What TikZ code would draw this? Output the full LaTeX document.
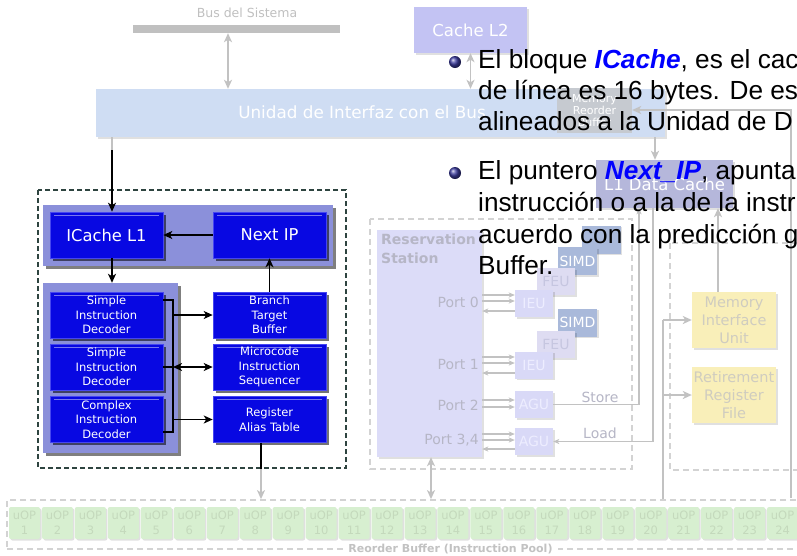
\documentclass[tikz,border=0pt]{standalone}
\usepackage{fontspec}
\setmainfont{Liberation Sans}
\newfontfamily\dv{DejaVu Sans}
\usetikzlibrary{arrows.meta,shadows}
\definecolor{busblue}{HTML}{CFDDF3}
\definecolor{busbar}{HTML}{C0C0C0}
\definecolor{ltwo}{HTML}{C3C3F3}
\definecolor{lone}{HTML}{B5B7DB}
\definecolor{mrbfill}{HTML}{C6CAD0}
\definecolor{fblue}{HTML}{0808E2}
\definecolor{fhi}{HTML}{4646F0}
\definecolor{fpanel}{HTML}{8B90DA}
\definecolor{ggray}{HTML}{C2C2C2}
\definecolor{dashgray}{HTML}{D3D3D3}
\definecolor{framec}{HTML}{2E4440}
\definecolor{rsfill}{HTML}{DCDCF8}
\definecolor{rstext}{HTML}{B6B6C6}
\definecolor{unitfill}{HTML}{D9D9F7}
\definecolor{unittext}{HTML}{EDEDFF}
\definecolor{feufill}{HTML}{DEDCF2}
\definecolor{feutext}{HTML}{C6C6E0}
\definecolor{simdfill}{HTML}{A9B9DA}
\definecolor{yel}{HTML}{F9EFB9}
\definecolor{yeltext}{HTML}{CFCCC0}
\definecolor{uopfill}{HTML}{D7EFD0}
\definecolor{uoptext}{HTML}{C4D9BC}
\definecolor{ballblue}{HTML}{3B3BA0}
\definecolor{linkblue}{HTML}{0000FF}
\newcommand\bigtxt{\fontsize{26.2}{31.5}\selectfont}
\begin{document}
\begin{tikzpicture}[x=1pt,y=-1pt,
  tip/.tip={Stealth[length=9pt,width=8pt,inset=2.5pt]},
  stip/.tip={Stealth[length=6pt,width=5pt,inset=1.5pt]},
  gline/.style={draw=ggray,line width=1.8pt},
  garr/.style={gline,-tip},
  gdarr/.style={gline,tip-tip},
  sgarr/.style={draw=ggray,line width=1.5pt,-stip},
  sarr/.style={draw=ggray,line width=1.1pt,-stip},
  barr/.style={draw=black,line width=1.8pt,-tip},
  bdarr/.style={draw=black,line width=1.8pt,tip-tip},
  gdash/.style={draw=dashgray,line width=1.8pt,dash pattern=on 6pt off 4pt},
  lshadow/.style={drop shadow={shadow xshift=1.5pt,shadow yshift=-1.5pt,fill=black,opacity=.12}},
  plain/.style={rectangle,inner sep=0pt,align=center},
  fb/.style={plain,fill=fblue,draw=fhi,line width=.6pt,text=white,
    minimum width=113pt,minimum height=46pt,
    font=\dv\fontsize{11.5}{14.5}\selectfont,
    drop shadow={shadow xshift=2.5pt,shadow yshift=-2.5pt,fill=black,opacity=.55},
    path picture={\draw[white,opacity=.45,line width=.8pt]
      ([xshift=4pt,yshift=-3pt]path picture bounding box.north west) --
      ([xshift=-4pt,yshift=-3pt]path picture bounding box.north east);}},
  unit/.style={plain,fill=unitfill,text=unittext,minimum width=38pt,minimum height=27pt,
    font=\dv\fontsize{14}{16}\selectfont,lshadow},
  feu/.style={unit,fill=feufill,text=feutext},
  simd/.style={unit,fill=simdfill,text=white,minimum width=39pt,minimum height=28pt},
  yelbox/.style={plain,fill=yel,text=yeltext,minimum width=84pt,minimum height=56pt,
    font=\dv\fontsize{14.5}{18}\selectfont,lshadow},
  uop/.style={plain,rounded corners=2pt,fill=uopfill,text=uoptext,minimum width=31pt,
    minimum height=32pt,font=\dv\fontsize{11.5}{15}\selectfont,lshadow},
  ptext/.style={text=rstext,inner sep=0pt,font=\dv\fontsize{14}{16}\selectfont},
  bline/.style={anchor=base west,inner sep=0pt,font=\bigtxt}
]
\clip (0,0) rectangle (797,555);
\fill[white] (0,0) rectangle (797,555);

% ---------- bus and caches
\node[text=busbar,font=\dv\fontsize{12.5}{14}\selectfont] (bst) at (247,13) {Bus del Sistema};
\node[plain,fill=busbar,minimum width=207pt,minimum height=8pt] (bar) at (236.5,29) {};
\node[plain,fill=busblue,minimum width=569pt,minimum height=48pt,lshadow] (biu) at (380.5,113) {};
\node[text=white,font=\dv\fontsize{16.8}{20}\selectfont] (biut) at (362,112) {Unidad de Interfaz con el Bus};
\coordinate (bx) at (228,0);
\draw[gdarr] (bar.south -| bx) -- (biu.north -| bx);
\node[plain,fill=ltwo,minimum width=113pt,minimum height=46pt,text=white,
  font=\dv\fontsize{16.5}{20}\selectfont,lshadow] (l2) at (470.5,30) {Cache L2};
\draw[gdarr] (l2.south) -- (l2.south |- biu.north);
\node[plain,fill=mrbfill,minimum width=75pt,minimum height=45pt,text=white,
  font=\dv\fontsize{11}{12}\selectfont] (mrb) at (594.5,110.5) {Memory\\Reorder\\Buffer};
\node[plain,fill=lone,minimum width=137pt,minimum height=48pt,text=white,
  font=\dv\fontsize{16.5}{20}\selectfont,lshadow] (l1) at (664.5,184) {L1 Data Cache};
\coordinate (mx) at (655,0);
\draw[garr] (biu.south -| mx) -- (l1.north -| mx);

% ---------- reorder buffer
\node[plain,draw=dashgray,line width=1.8pt,dash pattern=on 6pt off 4pt,
  minimum width=805pt,minimum height=49pt] (rob) at (409.5,524.5) {};
\node[fill=white,inner sep=5pt,text=ggray,font=\dv\bfseries\fontsize{11}{13}\selectfont]
  (robl) at (450.5,549) {Reorder Buffer (Instruction Pool)};
\foreach \i in {1,...,24} {
  \node[uop] (u\i) at ({24.5+(\i-1)*32.96},523) {uOP\\\i};
}

% ---------- right column
\coordinate (rtop) at (791,110);
\coordinate (rbot) at (791,498);
\draw[garr] (rbot) -- (rtop) -- (mrb.east |- rtop);
\draw[gdash] (670,243) rectangle (812,470);
\node[yelbox] (miu) at (734,320) {Memory\\Interface\\Unit};
\node[yelbox] (rrf) at (734,395) {Retirement\\Register\\File};
\coordinate (ax) at (718,0);
\draw[garr] (miu.north -| ax) -- (l1.south -| ax);
\coordinate (lx) at (663,0);
\draw[gline] (rob.north -| lx) -- (miu.west -| lx);
\draw[garr] (miu.west -| lx) -- (miu.west);
\draw[garr] (rrf.west -| lx) -- (rrf.west);

% ---------- reservation station
\draw[gdash] (370,219) rectangle (632,469);
\node[plain,fill=rsfill,minimum width=105pt,minimum height=227pt,lshadow] (rs) at (429.5,343.5) {};
\node[anchor=north west,inner sep=0pt,align=left,text=rstext,
  font=\dv\bfseries\fontsize{14}{19}\selectfont] (rsl) at (381,234) {Reservation\\Station};
\node[ptext,anchor=east] (p0) at (479,302) {Port 0};
\node[ptext,anchor=east] (p1) at (479,364) {Port 1};
\node[ptext,anchor=east] (p2) at (479,405) {Port 2};
\node[ptext,anchor=east] (p3) at (479,440) {Port 3,4};

\node[simd] (mmx) at (601,239.5) {};
\node[simd] (simda) at (577.5,261) {SIMD};
\node[feu] (feua) at (556,281.5) {FEU};
\node[unit] (ieua) at (534,303.5) {IEU};
\node[simd] (simdb) at (577.5,322.5) {SIMD};
\node[feu] (feub) at (556,344.5) {FEU};
\node[unit] (ieub) at (534,365) {IEU};
\node[unit] (agua) at (534,404.5) {AGU};
\node[unit] (agub) at (534,441.5) {AGU};

\draw[sarr] (rs.east |- 0,295) -- (ieua.west |- 0,295);
\draw[sarr] (rs.east |- 0,301) -- (ieua.west |- 0,301);
\draw[sarr] (ieua.west |- 0,311) -- (rs.east |- 0,311);
\draw[sarr] (rs.east |- 0,357) -- (ieub.west |- 0,357);
\draw[sarr] (rs.east |- 0,363) -- (ieub.west |- 0,363);
\draw[sarr] (ieub.west |- 0,373) -- (rs.east |- 0,373);
\draw[sarr] (rs.east |- 0,400) -- (agua.west |- 0,400);
\draw[sarr] (rs.east |- 0,407) -- (agua.west |- 0,407);
\draw[sarr] (rs.east |- 0,434) -- (agub.west |- 0,434);
\draw[sarr] (rs.east |- 0,440) -- (agub.west |- 0,440);
\draw[sarr] (agub.west |- 0,449) -- (rs.east |- 0,449);

\coordinate (sx) at (639,0);
\coordinate (ldx) at (653,0);
\draw[sgarr] (agua.east) -- (agua.east -| sx) -- (l1.south -| sx);
\draw[sgarr] (l1.south -| ldx) -- (agub.east -| ldx) -- (agub.east);
\node[ptext] (stl) at (600,397) {Store};
\node[ptext] (ldl) at (600,433) {Load};
\coordinate (rsx) at (431,0);
\draw[gdarr] (rs.south -| rsx) -- (rob.north -| rsx);

% ---------- front end
\draw[draw=framec,line width=1.5pt,dash pattern=on 5pt off 3pt] (38,190) rectangle (346,468);
\node[plain,fill=fpanel,minimum width=290pt,minimum height=61pt,
  drop shadow={shadow xshift=2.5pt,shadow yshift=-2.5pt,fill=black,opacity=.5}] (pa) at (188,235.5) {};
\node[plain,fill=fpanel,minimum width=135pt,minimum height=170pt,
  drop shadow={shadow xshift=2.5pt,shadow yshift=-2.5pt,fill=black,opacity=.5}] (pb) at (110.5,368) {};
\node[fb,font=\dv\fontsize{16.3}{19}\selectfont] (ic) at (106.5,235) {ICache L1};
\node[fb,font=\dv\fontsize{16.3}{19}\selectfont] (nip) at (269.5,235) {Next IP};
\node[fb] (d1) at (106.5,315) {Simple\\Instruction\\Decoder};
\node[fb] (d2) at (106.5,367) {Simple\\Instruction\\Decoder};
\node[fb] (d3) at (106.5,419.5) {Complex\\Instruction\\Decoder};
\node[fb] (btb) at (269.5,315) {Branch\\Target\\Buffer};
\node[fb] (mis) at (269.5,367) {Microcode\\Instruction\\Sequencer};
\node[fb] (rat) at (269.5,419.5) {Register\\Alias Table};

\coordinate (ix) at (112,0);
\coordinate (ib) at (112,150);
\draw[gline] (biu.south -| ix) -- (ib);
\draw[barr] (ib) -- (ic.north -| ix);
\draw[barr] (nip.west) -- (ic.east);
\draw[barr] (ic.south -| ix) -- (pb.north -| ix);
\draw[barr] (btb.north) -- (nip.south);
\coordinate (bt) at (173,300);
\coordinate (bb) at (173,432);
\draw[black,line width=1.5pt] (d1.east |- bt) -- (bt) -- (bb) -- (d3.east |- bb);
\draw[black,line width=1.5pt] (d2.east) -- (d2.east -| bt);
\draw[barr] (btb.west -| bt) -- (btb.west);
\draw[bdarr] (mis.west -| bt) -- (mis.west);
\draw[barr] (rat.west -| bt) -- (rat.west);
\coordinate (rx) at (261,469);
\draw[black,line width=1.8pt] (rat.south -| rx) -- (rx);
\draw[garr] (rx) -- (rob.north -| rx);

% ---------- bullet text overlay
\shade[ball color=ballblue] (455,62) circle (6pt);
\node[bline] (a1) at (478,68.5) {El bloque \textcolor{linkblue}{\textbf{\textit{ICache}}}, es el cac};
\node[bline] (a2) at (478,99.5) {de línea es 16 bytes. De es};
\node[bline] (a3) at (478,130.5) {alineados a la Unidad de D};
\shade[ball color=ballblue] (455,173) circle (6pt);
\node[bline] (b1) at (478,179.5) {El puntero \textcolor{linkblue}{\textbf{\textit{Next\_IP}}}, apunta};
\node[bline] (b2) at (478,211.5) {instrucción o a la de la instr};
\node[bline] (b3) at (478,243) {acuerdo con la predicción g};
\node[bline] (b4) at (478,274.5) {Buffer.};
\end{tikzpicture}
\end{document}
